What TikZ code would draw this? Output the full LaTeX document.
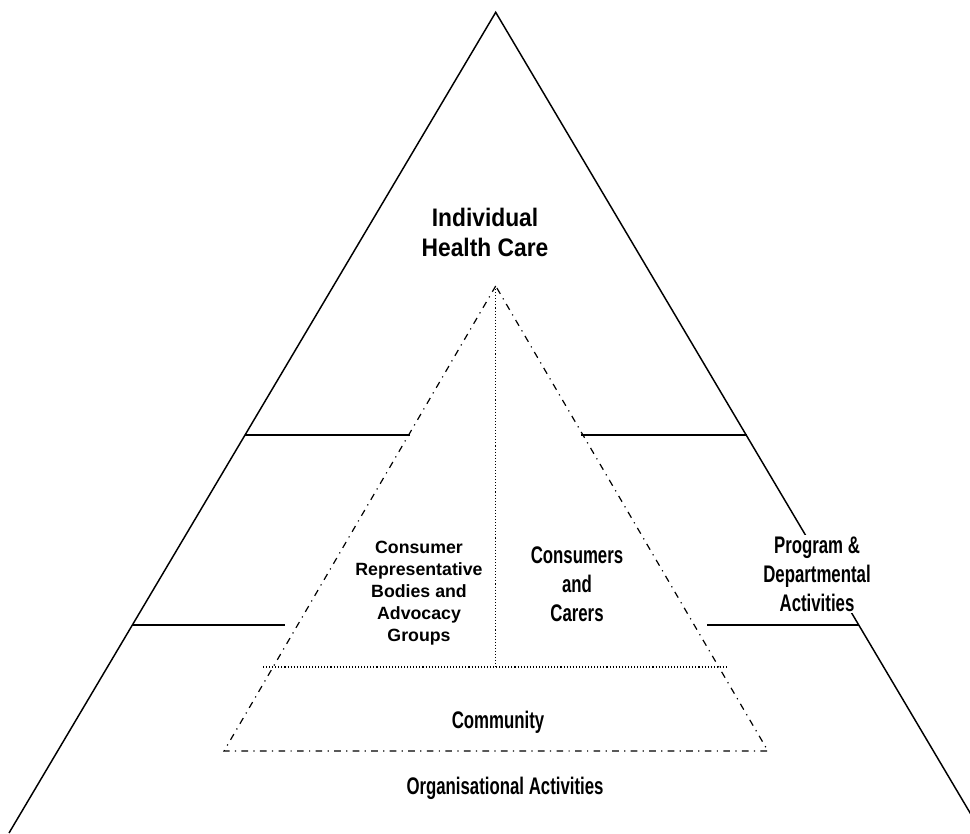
\documentclass[tikz,border=0pt]{standalone}
\usepackage{fontspec}
\setmainfont{Liberation Sans}
\newfontfamily\narrowsf[FakeStretch=0.7]{Liberation Sans}
\newfontfamily\widesf[FakeStretch=0.9]{Liberation Sans}
\usepackage{tikz}
\usetikzlibrary{calc}

\begin{document}
\begin{tikzpicture}[x=0.75pt, y=-0.75pt,
  outerline/.style={black, line width=1.1pt},
  innerline/.style={black, line width=0.9pt, dash pattern=on 5pt off 4pt on 0.9pt off 4pt},
  splitline/.style={black, line width=0.8pt, dash pattern=on 0.8pt off 1.5pt},
  biglabel/.style={font=\narrowsf\bfseries\fontsize{18}{21.75}\selectfont, align=center, inner sep=0pt},
  toplabel/.style={font=\widesf\bfseries\fontsize{19}{22.5}\selectfont, align=center, inner sep=0pt},
  smalllabel/.style={font=\bfseries\fontsize{13.3}{16.5}\selectfont, align=center, inner sep=0pt}]
  \useasboundingbox (0,0) rectangle (970,833);
  \clip (0,0) rectangle (970,833);
  % outer triangle
  \coordinate (top) at (495.7,12.3);
  \coordinate (baseL) at (9,833);
  \coordinate (baseR) at (982,833);
  \draw[outerline] (baseL) -- (top) -- (baseR);
  % inner triangle
  \coordinate (itop) at (495.7,286);
  \coordinate (ibaseL) at (224,751);
  \coordinate (ibaseR) at (768,751);
  \draw[innerline] (itop) -- (ibaseL) -- (ibaseR) -- cycle;
  \coordinate (imid) at (495.7,667);
  \coordinate (isplitL) at (263,667);
  \coordinate (isplitR) at (728,667);
  \draw[splitline] (itop) -- (imid);
  \draw[splitline] (isplitL) -- (isplitR);
  % band lines
  \coordinate (bandAL) at (245,435);
  \coordinate (bandAl) at (410,435);
  \coordinate (bandAr) at (581,435);
  \coordinate (bandAR) at (746.5,435);
  \coordinate (bandBL) at (132.5,625);
  \coordinate (bandBl) at (285,625);
  \coordinate (bandBr) at (707,625);
  \coordinate (bandBR) at (859,625);
  \draw[outerline] (bandAL) -- (bandAl);
  \draw[outerline] (bandAr) -- (bandAR);
  \draw[outerline] (bandBL) -- (bandBl);
  \draw[outerline] (bandBr) -- (bandBR);
  % labels
  \node[toplabel] (indiv) at (485,232) {Individual\\Health Care};
  \node[biglabel, fill=white, inner sep=1pt] (program) at (817,574) {Program \&\\Departmental\\Activities};
  \node[smalllabel] (bodies) at (419,593) {Consumer\\Representative\\Bodies and\\Advocacy\\Groups};
  \node[biglabel] (carers) at (577,584) {Consumers\\and\\Carers};
  \node[biglabel] (community) at (498,722) {Community};
  \node[biglabel] (orgact) at (505,788) {Organisational Activities};
\end{tikzpicture}
\end{document}
